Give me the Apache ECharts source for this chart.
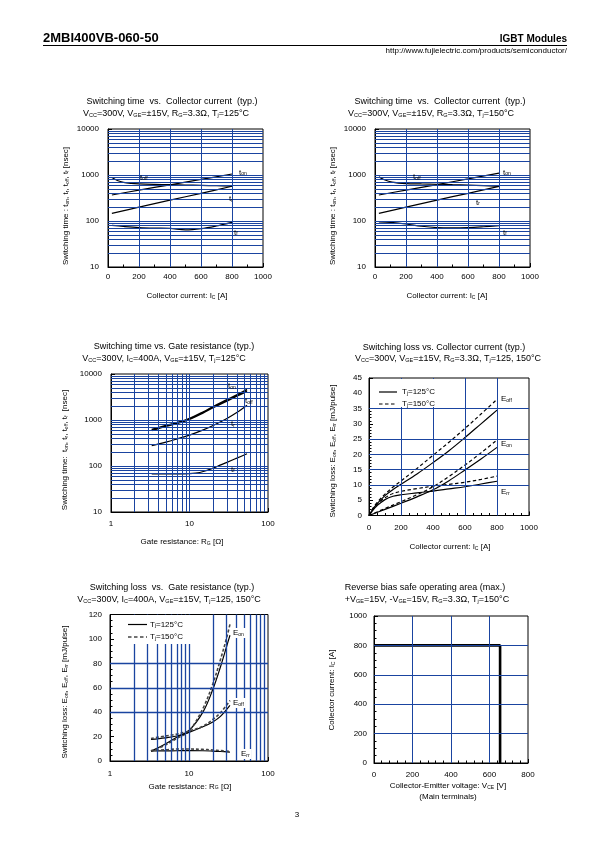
<!DOCTYPE html>
<html><head><meta charset="utf-8">
<script src="https://cdn.jsdelivr.net/npm/echarts@6/dist/echarts.min.js"></script>
<style>html,body{margin:0;padding:0;background:#fff}#c{width:595px;height:842px}</style>
</head><body><div id="c"></div>
<script>
// ---------- DATA ----------
// Plot 1: switching time vs collector current, Tj=125°C
const p1_ton_x = [25, 200, 400, 600, 800];
const p1_ton_y = [368, 470, 612, 800, 1050];
const p1_toff_x = [25, 60, 100, 150, 200, 300, 400, 500, 600, 700, 800];
const p1_toff_y = [880, 760, 690, 655, 640, 625, 615, 605, 595, 585, 575];
const p1_tr_x = [25, 200, 400, 600, 800];
const p1_tr_y = [147, 200, 284, 400, 570];
const p1_tf_x = [25, 100, 200, 300, 400, 500, 600, 700, 800];
const p1_tf_y = [80, 76, 72, 70, 69, 64, 68, 78, 93];
// Plot 2: Tj=150°C
const p2_ton_x = [25, 200, 400, 600, 800];
const p2_ton_y = [367, 470, 620, 820, 1100];
const p2_toff_x = [25, 60, 110, 200, 300, 400, 500, 600, 700, 800];
const p2_toff_y = [910, 790, 700, 650, 640, 630, 615, 600, 585, 565];
const p2_tr_x = [25, 200, 400, 600, 800];
const p2_tr_y = [147, 200, 285, 400, 565];
const p2_tf_x = [25, 100, 200, 300, 400, 500, 600, 700, 800];
const p2_tf_y = [96, 93, 86, 77, 72, 71, 72, 75, 79];
// Plot 3: switching time vs gate resistance
const p3_r = [3.3, 5, 7, 10, 15, 20, 30, 40, 54];
const p3_ton_y = [620, 760, 880, 1080, 1500, 1950, 2750, 3500, 4600];
const p3_toff_y = [590, 730, 850, 1040, 1440, 1870, 2600, 3300, 4200];
const p3_tr_y = [275, 330, 390, 470, 610, 760, 1080, 1450, 2100];
const p3_tf_x = [3.3, 5, 7, 10, 12, 15, 20, 25, 30, 40, 54];
const p3_tf_y = [67, 67, 67, 68, 70, 76, 90, 106, 120, 148, 185];
// Plot 4: switching loss vs collector current
const p4_eoff_x = [0, 25, 50, 100, 150, 200, 300, 400, 500, 600, 700, 800];
const p4_eoff125 = [0, 2.2, 3.8, 6.5, 8.5, 10.2, 13.6, 17.3, 21.2, 25.5, 30, 34.5];
const p4_eoff150 = [0, 2.4, 4.2, 7.0, 9.3, 11.3, 15.4, 19.7, 24.0, 28.5, 33.2, 38.0];
const p4_eon_x = [0, 100, 200, 300, 400, 500, 600, 700, 800];
const p4_eon125 = [0, 2.0, 4.0, 6.1, 8.4, 11.4, 14.9, 18.5, 22.3];
const p4_eon150 = [0, 2.3, 4.5, 6.8, 9.4, 12.8, 16.5, 20.5, 24.7];
const p4_err_x = [0, 25, 50, 100, 150, 200, 300, 400, 500, 600, 700, 800];
const p4_err125 = [0, 1.8, 3.2, 5.2, 6.3, 6.8, 7.4, 8.0, 8.7, 9.4, 10.3, 11.2];
const p4_err150 = [0, 2.0, 3.6, 5.8, 7.2, 7.9, 8.8, 9.6, 10.2, 10.9, 11.8, 12.9];
// Plot 5: switching loss vs gate resistance
const p5_eon_x = [3.3, 5, 7, 10, 15, 20, 25, 30, 33];
const p5_eon125 = [8, 14, 19.5, 25, 40, 58.5, 77, 94, 103];
const p5_eon150 = [8, 13, 18.5, 24.5, 43, 63, 83, 101, 112];
const p5_x = [3.3, 5, 7, 10, 15, 20, 25, 33];
const p5_eoff125 = [17.7, 19, 20.5, 23.5, 28, 32, 36.5, 45.5];
const p5_eoff150 = [18.5, 20.5, 22, 24.5, 28.5, 34, 39.5, 49.5];
const p5_err125 = [8.2, 8.3, 8.4, 8.5, 8.4, 8.1, 7.8, 7.3];
const p5_err150 = [8.6, 9.2, 9.8, 9.8, 9.5, 9.0, 8.5, 7.8];
// Plot 6: RBSOA
const p6_vce = [0, 655, 655];
const p6_ic = [800, 800, 0];

// tick labels
const ticksLogTime = [10, 100, 1000, 10000];
const ticksLogR = [1, 10, 100];
const ticksIc = [0, 200, 400, 600, 800, 1000];
const ticksLoss = [0, 5, 10, 15, 20, 25, 30, 35, 40, 45];
const ticksLossR = [0, 20, 40, 60, 80, 100, 120];
const ticksVce = [0, 200, 400, 600, 800];
const ticksRbsoa = [0, 200, 400, 600, 800, 1000];
// gridline positions
const gridLogTime = [20,30,40,50,60,70,80,90,100,200,300,400,500,600,700,800,900,1000,2000,3000,4000,5000,6000,7000,8000,9000];
const gridLogR = [2,3,4,5,6,7,8,9,10,20,30,40,50,60,70,80,90];
const gridIc = [200, 400, 600, 800];
const gridLossY = [10, 15, 20, 25, 35];
const gridLossRY = [40, 60, 80];
const gridVce = [200, 400, 600];
const gridRbsoaY = [200, 400, 600, 800];

// ---------- STYLE ----------
const FONT = '"Liberation Sans", Arial, sans-serif';
const BLUE = '#1a44a0';
const chart = echarts.init(document.getElementById('c'), null, {renderer: 'canvas'});

const grids = [
  {left: 108, top: 129, width: 155, height: 138},
  {left: 375, top: 129, width: 155, height: 138},
  {left: 111, top: 374, width: 157, height: 138},
  {left: 369, top: 378, width: 160, height: 137.5},
  {left: 110, top: 614.5, width: 158, height: 146.5},
  {left: 374, top: 616, width: 154, height: 147}
].map(g => Object.assign({show: true, borderColor: '#000', borderWidth: 1, backgroundColor: 'transparent', containLabel: false, outerBoundsMode: 'none'}, g));

function fmt(list) {
  return function (v) {
    const r = Math.round(v * 1000) / 1000;
    return list.indexOf(r) >= 0 ? String(r) : '';
  };
}
function axis(gi, type, min, max, opts) {
  const a = {
    gridIndex: gi, type: type, min: min, max: max,
    axisLine: {show: true, onZero: false, lineStyle: {color: '#000', width: 1}},
    axisTick: {show: true, inside: true, length: 4, lineStyle: {color: '#000', width: 1}},
    axisLabel: {color: '#000', fontSize: 8, fontFamily: FONT, margin: opts.margin, showMinLabel: true, showMaxLabel: true, hideOverlap: false, formatter: fmt(opts.ticks)},
    splitLine: {show: false},
    minorSplitLine: {show: false},
    axisPointer: {show: false}
  };
  if (type === 'log') { a.logBase = 10; }
  else { a.interval = opts.interval; }
  if (opts.minor) a.minorTick = {show: true, splitNumber: opts.minor, length: 2.5, lineStyle: {color: '#000', width: 1}};
  return a;
}
const xAxes = [
  axis(0, 'value', 0, 1000, {interval: 200, ticks: ticksIc, margin: 6, minor: 2}),
  axis(1, 'value', 0, 1000, {interval: 200, ticks: ticksIc, margin: 6, minor: 2}),
  axis(2, 'log', 1, 100, {ticks: ticksLogR, margin: 8}),
  axis(3, 'value', 0, 1000, {interval: 200, ticks: ticksIc, margin: 8, minor: 4}),
  axis(4, 'log', 1, 100, {ticks: ticksLogR, margin: 9}),
  axis(5, 'value', 0, 800, {interval: 200, ticks: ticksVce, margin: 8, minor: 5})
];
const yAxes = [
  axis(0, 'log', 10, 10000, {ticks: ticksLogTime, margin: 9}),
  axis(1, 'log', 10, 10000, {ticks: ticksLogTime, margin: 9}),
  axis(2, 'log', 10, 10000, {ticks: ticksLogTime, margin: 9}),
  axis(3, 'value', 0, 45, {interval: 5, ticks: ticksLoss, margin: 7, minor: 5}),
  axis(4, 'value', 0, 120, {interval: 20, ticks: ticksLossR, margin: 8, minor: 4}),
  axis(5, 'value', 0, 1000, {interval: 200, ticks: ticksRbsoa, margin: 7, minor: 4})
];

function gridSeries(ai, xs, ys, w) {
  return {
    type: 'line', xAxisIndex: ai, yAxisIndex: ai, data: [], z: 1, silent: true,
    markLine: {
      silent: true, symbol: ['none', 'none'], label: {show: false}, animation: false,
      lineStyle: {color: BLUE, width: w || 1, type: 'solid', opacity: 1},
      emphasis: {disabled: true},
      data: xs.map(v => ({xAxis: v, lineStyle: {color: BLUE}})).concat(ys.map(v => ({yAxis: v, lineStyle: {color: BLUE}})))
    }
  };
}
function curve(ai, xs, ys, dashed, opts) {
  opts = opts || {};
  return {
    type: 'line', xAxisIndex: ai, yAxisIndex: ai, z: 3, silent: true,
    data: xs.map((x, i) => [x, ys[i]]),
    symbol: 'none', showSymbol: false,
    smooth: opts.smooth === undefined ? 0.35 : opts.smooth,
    lineStyle: {color: opts.color || '#000', width: opts.width || 1.2, type: dashed ? (opts.dash || [3.5, 2.5]) : 'solid'}
  };
}

const series = [
  gridSeries(0, gridIc, gridLogTime),
  gridSeries(1, gridIc, gridLogTime),
  gridSeries(2, gridLogR, gridLogTime),
  gridSeries(3, gridIc, gridLossY),
  gridSeries(4, gridLogR, gridLossRY, 1.3),
  gridSeries(5, gridVce, gridRbsoaY),
  curve(0, p1_ton_x, p1_ton_y), curve(0, p1_toff_x, p1_toff_y), curve(0, p1_tr_x, p1_tr_y), curve(0, p1_tf_x, p1_tf_y),
  curve(1, p2_ton_x, p2_ton_y), curve(1, p2_toff_x, p2_toff_y), curve(1, p2_tr_x, p2_tr_y), curve(1, p2_tf_x, p2_tf_y),
  curve(2, p3_r, p3_ton_y, false, {width: 1.6}), curve(2, p3_r, p3_toff_y, false, {width: 1.6}),
  curve(2, p3_r, p3_tr_y), curve(2, p3_tf_x, p3_tf_y),
  curve(3, p4_eoff_x, p4_eoff125), curve(3, p4_eoff_x, p4_eoff150, true),
  curve(3, p4_eon_x, p4_eon125), curve(3, p4_eon_x, p4_eon150, true),
  curve(3, p4_err_x, p4_err125), curve(3, p4_err_x, p4_err150, true),
  curve(4, p5_eon_x, p5_eon125), curve(4, p5_eon_x, p5_eon150, true, {color: '#444', width: 1.6, dash: [3, 2]}),
  curve(4, p5_x, p5_eoff125), curve(4, p5_x, p5_eoff150, true, {color: '#444', width: 1.6, dash: [3, 2]}),
  curve(4, p5_x, p5_err125), curve(4, p5_x, p5_err150, true, {color: '#444', width: 1.6, dash: [3, 2]}),
  curve(5, p6_vce, p6_ic, false, {smooth: false, width: 2.6})
];

// ---------- TEXT ----------
function txt(x, y, text, o) {
  o = o || {};
  return {
    type: 'text', x: x, y: y, z: 100, rotation: o.rot || 0, silent: true,
    style: {
      text: text, fill: '#000', fontSize: o.size || 9, fontFamily: FONT, fontWeight: o.bold ? 'bold' : 'normal',
      align: o.align || 'center', verticalAlign: 'middle', textAlign: o.align || 'center', textVerticalAlign: 'middle',
      rich: {s: {fontSize: o.sub || 5.5, fontFamily: FONT, verticalAlign: 'bottom', fill: '#000'}},
      backgroundColor: o.bg || null, padding: o.bg ? [1, 2] : 0
    }
  };
}
function seg(x1, y1, x2, y2, dashed, color, w) {
  return {type: 'line', z: 101, silent: true, shape: {x1: x1, y1: y1, x2: x2, y2: y2},
    style: {stroke: color || '#000', lineWidth: w || 1.2, lineDash: dashed ? [3.5, 2.5] : null}};
}
function box(x, y, w, h) {
  return {type: 'rect', z: 99, silent: true, shape: {x: x, y: y, width: w, height: h}, style: {fill: '#fff'}};
}
const ROT = Math.PI / 2;
const graphic = [
  // header
  txt(43, 38, '2MBI400VB-060-50', {size: 13, bold: true, align: 'left'}),
  txt(567, 39, 'IGBT Modules', {size: 10, bold: true, align: 'right'}),
  seg(43, 45.5, 567, 45.5, false, '#000', 1),
  txt(567, 51, 'http://www.fujielectric.com/products/semiconductor/', {size: 8, align: 'right'}),
  txt(297, 815, '3', {size: 8}),
  // plot 1
  txt(172, 101.5, 'Switching time  vs.  Collector current  (typ.)'),
  txt(166, 113.5, 'V{s|CC}=300V, V{s|GE}=±15V, R{s|G}=3.3Ω, T{s|j}=125°C'),
  txt(66, 206, 'Switching time : t{s|on}, t{s|r}, t{s|off}, t{s|f} [nsec]', {size: 8, rot: ROT, sub: 5}),
  txt(187, 296, 'Collector current: I{s|C} [A]', {size: 8, sub: 5}),
  txt(239, 172.5, 't{s|on}', {size: 8, align: 'left', sub: 5}),
  txt(140, 177.5, 't{s|off}', {size: 8, align: 'left', sub: 5}),
  txt(229, 199, 't{s|r}', {size: 8, align: 'left', sub: 5}),
  txt(234, 232.5, 't{s|f}', {size: 8, align: 'left', sub: 5}),
  // plot 2
  txt(440, 101.5, 'Switching time  vs.  Collector current  (typ.)'),
  txt(431, 113.5, 'V{s|CC}=300V, V{s|GE}=±15V, R{s|G}=3.3Ω, T{s|j}=150°C'),
  txt(333, 206, 'Switching time : t{s|on}, t{s|r}, t{s|off}, t{s|f} [nsec]', {size: 8, rot: ROT, sub: 5}),
  txt(447, 296, 'Collector current: I{s|C} [A]', {size: 8, sub: 5}),
  txt(503, 172.5, 't{s|on}', {size: 8, align: 'left', sub: 5}),
  txt(413, 177, 't{s|off}', {size: 8, align: 'left', sub: 5}),
  txt(476, 202.5, 't{s|r}', {size: 8, align: 'left', sub: 5}),
  txt(503, 232.5, 't{s|f}', {size: 8, align: 'left', sub: 5}),
  // plot 3
  txt(174, 346.5, 'Switching time vs. Gate resistance (typ.)'),
  txt(164, 359, 'V{s|CC}=300V, I{s|C}=400A, V{s|GE}=±15V, T{s|j}=125°C'),
  txt(65, 450, 'Switching time:  t{s|on}, t{s|r}, t{s|off}, t{s|f}  [nsec]', {size: 8, rot: ROT, sub: 5}),
  txt(182, 542, 'Gate resistance: R{s|G} [Ω]', {size: 8, sub: 5}),
  txt(228, 386, 't{s|on}', {size: 8, align: 'left', sub: 5}),
  txt(245, 401, 't{s|off}', {size: 8, align: 'left', sub: 5}),
  txt(231, 424, 't{s|r}', {size: 8, align: 'left', sub: 5}),
  txt(231, 469.5, 't{s|f}', {size: 8, align: 'left', sub: 5}),
  // plot 4
  txt(444, 347.5, 'Switching loss vs. Collector current (typ.)'),
  txt(448, 359, 'V{s|CC}=300V, V{s|GE}=±15V, R{s|G}=3.3Ω, T{s|j}=125, 150°C'),
  txt(333, 451, 'Switching loss: E{s|on}, E{s|off}, E{s|rr} [mJ/pulse]', {size: 8, rot: ROT, sub: 5}),
  txt(450, 547, 'Collector current: I{s|C} [A]', {size: 8, sub: 5}),
  box(370, 379, 72, 28),
  seg(379, 392, 397, 392, false),
  seg(379, 404, 397, 404, true),
  txt(402, 392, 'T{s|j}=125°C', {size: 8, align: 'left', sub: 5}),
  txt(402, 404, 'T{s|j}=150°C', {size: 8, align: 'left', sub: 5}),
  txt(501, 399, 'E{s|off}', {size: 8, align: 'left', sub: 5}),
  txt(501, 444, 'E{s|on}', {size: 8, align: 'left', sub: 5}),
  txt(501, 492, 'E{s|rr}', {size: 8, align: 'left', sub: 5}),
  // plot 5
  txt(172, 588, 'Switching loss  vs.  Gate resistance (typ.)'),
  txt(169, 599.5, 'V{s|CC}=300V, I{s|C}=400A, V{s|GE}=±15V, T{s|j}=125, 150°C'),
  txt(65, 692, 'Switching loss: E{s|on}, E{s|off}, E{s|rr} [mJ/pulse]', {size: 8, rot: ROT, sub: 5}),
  txt(190, 786.5, 'Gate resistance: R{s|G} [Ω]', {size: 8, sub: 5}),
  box(121, 615, 76, 29),
  seg(128, 624.5, 147, 624.5, false),
  seg(128, 637, 147, 637, true, '#444', 1.6),
  txt(150, 624.5, 'T{s|j}=125°C', {size: 8, align: 'left', sub: 5}),
  txt(150, 637, 'T{s|j}=150°C', {size: 8, align: 'left', sub: 5}),
  txt(231, 633, 'E{s|on}', {size: 8, align: 'left', sub: 5, bg: '#fff'}),
  txt(231, 703, 'E{s|off}', {size: 8, align: 'left', sub: 5, bg: '#fff'}),
  txt(239, 754, 'E{s|rr}', {size: 8, align: 'left', sub: 5, bg: '#fff'}),
  // plot 6
  txt(425, 588, 'Reverse bias safe operating area (max.)'),
  txt(427, 599.5, '+V{s|GE}=15V, -V{s|GE}=15V, R{s|G}=3.3Ω, T{s|j}=150°C'),
  txt(332, 690, 'Collector current: I{s|C} [A]', {size: 8, rot: ROT, sub: 5}),
  txt(448, 786, 'Collector-Emitter voltage: V{s|CE} [V]', {size: 8, sub: 5}),
  txt(448, 797, '(Main terminals)', {size: 8})
];

chart.setOption({
  animation: false,
  backgroundColor: '#fff',
  grid: grids,
  xAxis: xAxes,
  yAxis: yAxes,
  series: series,
  graphic: graphic
});
</script></body></html>
